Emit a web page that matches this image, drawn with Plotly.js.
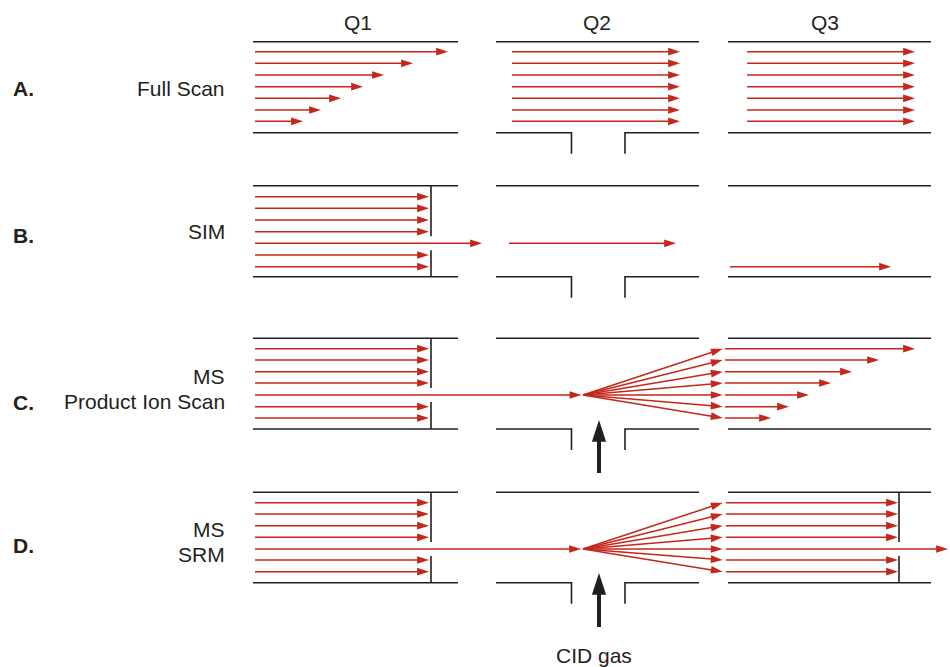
<!DOCTYPE html>
<html><head><meta charset="utf-8">
<script src="https://cdn.plot.ly/plotly-3.0.1.min.js"></script>
<style>html,body{margin:0;padding:0;background:#fff}#chart{width:950px;height:667px}</style>
</head><body><div id="chart"></div>
<script>
// ---------------- text content ----------------
const quadrupoles = ['Q1', 'Q2', 'Q3'];
const panelLetters = ['A.', 'B.', 'C.', 'D.'];
const scanModes = [['Full Scan'], ['SIM'], ['MS', 'Product Ion Scan'], ['MS', 'SRM']];
const gasLabel = 'CID gas';

// ---------------- ion lanes (diagram units, y down) ----------------
const lanesA = [51.7, 63.3, 75, 86.7, 98.3, 110, 121.3];
const lanesB = [196.7, 208.3, 220, 231.7, 243.3, 255, 266.7];
const lanesC = [348.7, 360, 371.7, 383, 395, 406.7, 418];
const lanesD = [502.7, 514, 525.7, 537.3, 549, 560, 571.7];
const rodTops = [41.7, 185.7, 338.3, 492.3];
const rodBottoms = [132.7, 276.7, 429, 582.7];

// ion travel end points
const fullScanQ1Ends = [448, 413, 384, 363, 341, 321, 303];
const productIonQ3Ends = [915, 879, 852, 831, 809, 789, 771];
const selectedLane = 4;

// ---------------- geometry of the diagram ----------------
const G = {
  q1: [253, 458], q2: [496, 699], q3: [728, 931],
  q2GapL: 571.5, q2GapR: 625, gapDepth: 21,
  q1Wall: 431, q3Wall: 899, wallGap: 7,
  q1Start: 255, q1Stop: 429,
  aQ2: [512, 680], aQ3: [747, 915],
  bPass: 482, bQ2: [509, 676], bQ3: [730, 891], bQ3Lane: 6,
  cellX: 582, fanX: 722.7, q3In: 725, srmStop: 898, srmOut: 948,
  cidX: 599, cidC: [473, 420], cidD: [627, 573],
  labelX: 227, letterX: 11,
  qLabelX: [358, 597, 825], qLabelY: 22.8,
  modeY: [[88], [231], [376.7, 401.7], [529.7, 554]],
  letterY: [88, 235, 402, 545],
  gasXY: [594, 655]
};

const RED = '#c4271b', INK = '#231f20';
const FONT = 'Liberation Sans, Arial, Helvetica, sans-serif';

// ---------------- build ion arrows ----------------
const arrows = [];
function arrow(x0, y0, x1, y1) { arrows.push([[x0, x1], [y0, y1]]); }

lanesA.forEach((y, i) => {
  arrow(G.q1Start, y, fullScanQ1Ends[i], y);
  arrow(G.aQ2[0], y, G.aQ2[1], y);
  arrow(G.aQ3[0], y, G.aQ3[1], y);
});
lanesB.forEach((y, i) => {
  if (i === selectedLane) {
    arrow(G.q1Start, y, G.bPass, y);
    arrow(G.bQ2[0], y, G.bQ2[1], y);
  } else arrow(G.q1Start, y, G.q1Stop, y);
  if (i === G.bQ3Lane) arrow(G.bQ3[0], y, G.bQ3[1], y);
});
lanesC.forEach((y, i) => {
  if (i === selectedLane) arrow(G.q1Start, y, G.cellX - 0.5, y);
  else arrow(G.q1Start, y, G.q1Stop, y);
  arrow(G.cellX + 1, lanesC[selectedLane], G.fanX, y);
  arrow(G.q3In, y, productIonQ3Ends[i], y);
});
lanesD.forEach((y, i) => {
  if (i === selectedLane) arrow(G.q1Start, y, G.cellX - 1, y);
  else arrow(G.q1Start, y, G.q1Stop, y);
  arrow(G.cellX + 1, lanesD[selectedLane], G.fanX, y);
  arrow(G.q3In + 1, y, i === selectedLane ? G.srmOut : G.srmStop, y);
});

// ---------------- rods / walls ----------------
const wx = [], wy = [];
function seg(xs, ys) { wx.push(...xs, null); wy.push(...ys, null); }
rodTops.forEach((top, p) => {
  const bot = rodBottoms[p];
  seg(G.q1, [top, top]); seg(G.q1, [bot, bot]);
  seg(G.q2, [top, top]);
  seg([G.q2[0], G.q2GapL, G.q2GapL], [bot, bot, bot + G.gapDepth]);
  seg([G.q2GapR, G.q2GapR, G.q2[1]], [bot + G.gapDepth, bot, bot]);
  seg(G.q3, [top, top]); seg(G.q3, [bot, bot]);
});
[lanesB, lanesC, lanesD].forEach((lanes, k) => {
  const p = k + 1, ys = lanes[selectedLane];
  seg([G.q1Wall, G.q1Wall], [rodTops[p], ys - G.wallGap]);
  seg([G.q1Wall, G.q1Wall], [ys + G.wallGap, rodBottoms[p]]);
});
seg([G.q3Wall, G.q3Wall], [rodTops[3], lanesD[selectedLane] - G.wallGap]);
seg([G.q3Wall, G.q3Wall], [lanesD[selectedLane] + G.wallGap, rodBottoms[3]]);

const traces = [{
  x: wx, y: wy, mode: 'lines', line: {color: INK, width: 1.6}, hoverinfo: 'skip', connectgaps: false
}];
arrows.forEach(a => traces.push({
  x: a[0], y: a[1], mode: 'lines+markers', hoverinfo: 'skip', cliponaxis: true, opacity: 1,
  line: {color: RED, width: 1.5},
  marker: {symbol: 'arrow', angleref: 'previous', size: [0, 12.5], color: RED, opacity: 1, line: {width: 0}}
}));
[G.cidC, G.cidD].forEach(c => traces.push({
  x: [G.cidX, G.cidX], y: c, mode: 'lines+markers', hoverinfo: 'skip', opacity: 1,
  line: {color: INK, width: 4},
  marker: {symbol: 'arrow', angleref: 'previous', size: [0, 23], color: INK, opacity: 1, line: {width: 0}}
}));

// ---------------- text ----------------
const ann = [];
const txt = (t, x, y, xa, extra) => ann.push(Object.assign({
  text: t, x: x, y: y, xref: 'x', yref: 'y', showarrow: false, xanchor: xa, yanchor: 'middle',
  font: {family: FONT, size: 21, color: INK}
}, extra || {}));
quadrupoles.forEach((q, i) => txt(q, G.qLabelX[i], G.qLabelY, 'center'));
panelLetters.forEach((l, i) => txt('<b>' + l + '</b>', G.letterX, G.letterY[i], 'left'));
scanModes.forEach((lines, i) => lines.forEach((t, j) => txt(t, G.labelX, G.modeY[i][j], 'right')));
txt(gasLabel, G.gasXY[0], G.gasXY[1], 'center');

Plotly.newPlot('chart', traces, {
  width: 950, height: 667, margin: {l: 0, r: 0, t: 0, b: 0},
  paper_bgcolor: '#fff', plot_bgcolor: '#fff', showlegend: false,
  xaxis: {range: [0, 950], visible: false, fixedrange: true},
  yaxis: {range: [667, 0], visible: false, fixedrange: true},
  annotations: ann
}, {staticPlot: true});
</script></body></html>
